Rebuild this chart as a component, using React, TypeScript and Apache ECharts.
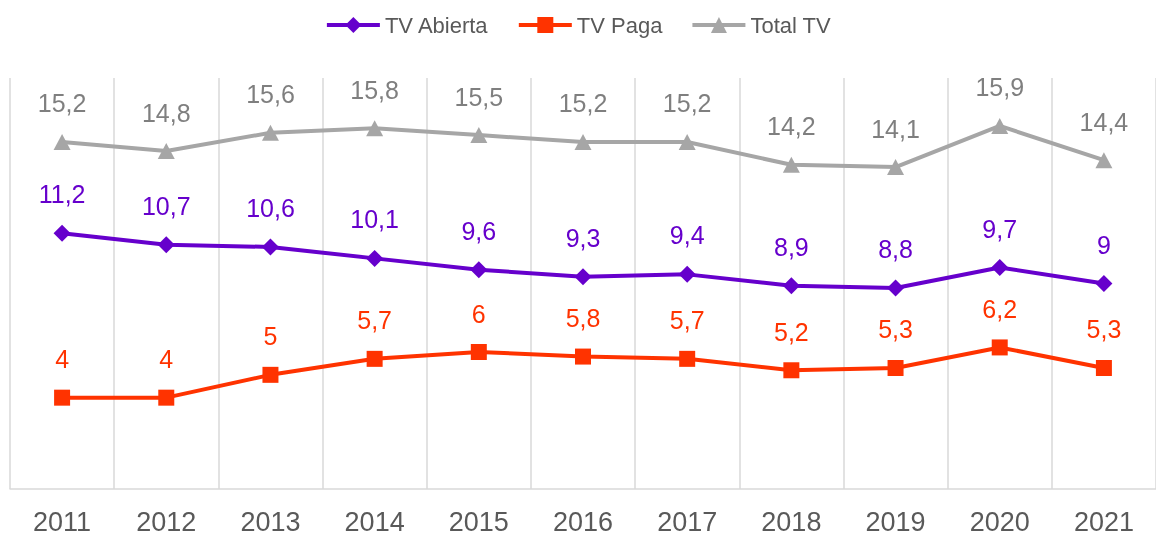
import React, { useEffect, useRef } from "react";
import * as echarts from "echarts";

const years = ["2011", "2012", "2013", "2014", "2015", "2016", "2017", "2018", "2019", "2020", "2021"];
const tvAbierta = [11.2, 10.7, 10.6, 10.1, 9.6, 9.3, 9.4, 8.9, 8.8, 9.7, 9];
const tvPaga = [4, 4, 5, 5.7, 6, 5.8, 5.7, 5.2, 5.3, 6.2, 5.3];
const totalTV = [15.2, 14.8, 15.6, 15.8, 15.5, 15.2, 15.2, 14.2, 14.1, 15.9, 14.4];

const FONT = "'Liberation Sans', Arial, sans-serif";

const fmt = (p: any) => String(p.value).replace(".", ",");

export default function App() {
  const ref = useRef<HTMLDivElement>(null);
  useEffect(() => {
    if (!ref.current) return;
    const chart = echarts.init(ref.current, null, { renderer: "svg" });
    const mk = (name: string, data: number[], color: string, labelColor: string, symbol: string, symbolSize: any) => ({
      name,
      type: "line",
      data,
      symbol,
      symbolSize,
      showAllSymbol: true,
      lineStyle: { color, width: 4 },
      itemStyle: { color },
      label: {
        show: true,
        position: "top",
        distance: 18,
        formatter: fmt,
        color: labelColor,
        fontFamily: FONT,
        fontSize: 25,
      },
    });
    chart.setOption({
      animation: false,
      legend: {
        top: 9,
        left: "center",
        itemWidth: 53,
        itemHeight: 20,
        itemGap: 28,
        lineStyle: { width: 4 },
        textStyle: { fontFamily: FONT, fontSize: 22, color: "#595959" },
        data: ["TV Abierta", "TV Paga", "Total TV"],
      },
      grid: { left: 10, width: 1150, top: 78, bottom: 46, containLabel: false },
      xAxis: {
        type: "category",
        data: years,
        boundaryGap: true,
        axisTick: { show: false },
        axisLine: { lineStyle: { color: "#D9D9D9", width: 1.5 } },
        splitLine: { show: true, lineStyle: { color: "#D9D9D9", width: 1.5 } },
        axisLabel: { color: "#595959", fontFamily: FONT, fontSize: 27, margin: 19 },
      },
      yAxis: {
        type: "value",
        min: 0,
        max: 18,
        show: false,
        splitLine: { show: false },
      },
      series: [
        mk("TV Abierta", tvAbierta, "#6600CC", "#6600CC", "diamond", [17, 17]),
        mk("TV Paga", tvPaga, "#FF3300", "#FF3300", "rect", [16, 16]),
        mk("Total TV", totalTV, "#A6A6A6", "#7F7F7F", "triangle", [17, 16]),
      ],
    });
    return () => chart.dispose();
  }, []);
  return <div ref={ref} style={{ position: "fixed", left: 0, top: 0, width: 1156, height: 535 }} />;
}
